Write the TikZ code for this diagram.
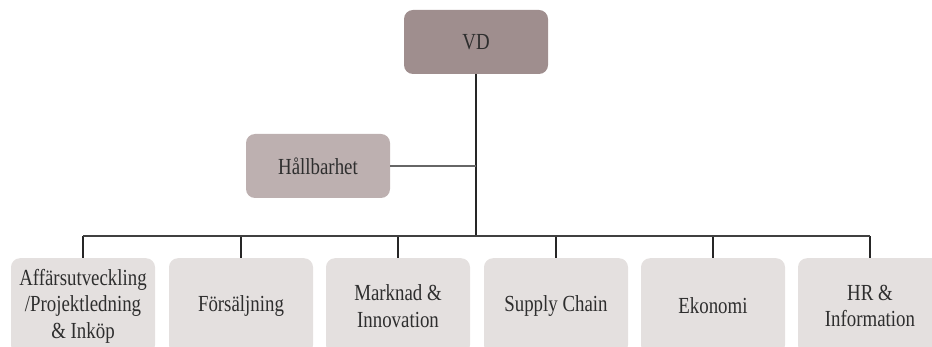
\documentclass[tikz,border=0pt]{standalone}
\usepackage{fontspec}
\setmainfont{Liberation Serif}[FakeStretch=0.82]
\begin{document}
\begin{tikzpicture}[x=1pt,y=-1pt,
  label font/.style={font=\fontsize{23}{26.5}\selectfont, text=black!82},
  box/.style={rounded corners=9pt, minimum width=144pt, minimum height=64pt,
    inner sep=0pt, align=center, label font},
  top/.style={box, fill=topfill},
  mid/.style={box, fill=midfill},
  unit/.style={box, fill=unitfill, minimum height=96pt, anchor=north},
  link/.style={line width=1.5pt, draw=black!85}]
\definecolor{topfill}{HTML}{9F8E8E}
\definecolor{midfill}{HTML}{BDB0B0}
\definecolor{unitfill}{HTML}{E4E0DF}
\useasboundingbox (0,0) rectangle (932,347);
\begin{scope}
\clip (0,0) rectangle (932,347);
\node[top] (vd) at (476,42) {VD};
\node[mid] (hb) at (318,166) {Hållbarhet};
\coordinate (bus) at (476,236);
\coordinate (tee) at (476,166);
\foreach \n/\x/\t in {u1/83/{Affärsutveckling\\/Projektledning\\\& Inköp},
                     u2/241/{Försäljning},
                     u3/398/{Marknad \&\\Innovation},
                     u4/556/{Supply Chain},
                     u5/713/{Ekonomi},
                     u6/870/{HR \&\\Information}}{
  \node[unit] (\n) at (\x,258) {\vphantom{Ag}};
  \node[align=center, label font, inner sep=0pt] (\n t) at (\x,306) {\t};
  \draw[link] (\n.north) -- (\n.north |- bus);
}
\draw[link] (vd.south) -- (bus);
\draw[link, draw=black!60] (hb.east) -- (tee);
\draw[link, draw=black!75] (u1.north |- bus) -- (u6.north |- bus);
\end{scope}
\end{tikzpicture}
\end{document}
